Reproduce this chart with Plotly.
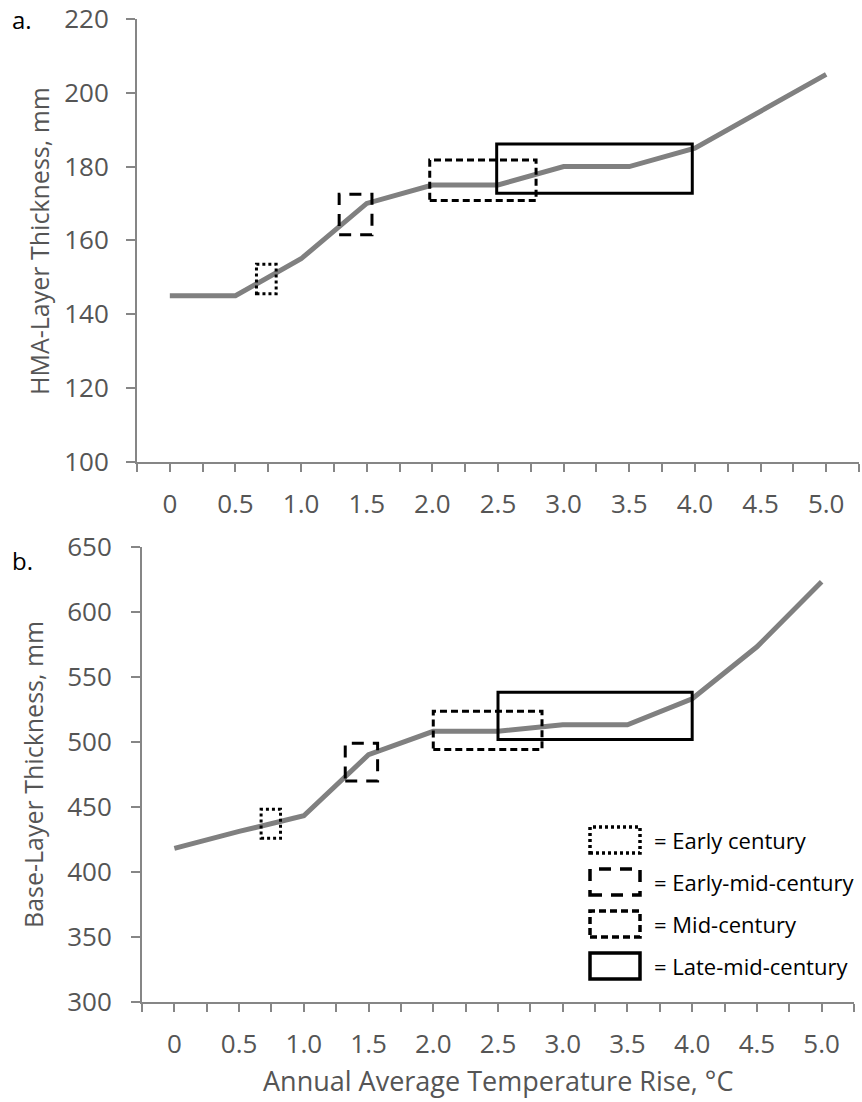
import numpy as np
import plotly.graph_objects as go

# ---------------- data ----------------
temp_rise = [0, 0.5, 1.0, 1.5, 2.0, 2.5, 3.0, 3.5, 4.0, 4.5, 5.0]
hma_thickness = [145, 145, 155, 170, 175, 175, 180, 180, 185, 195, 205]
base_thickness = [418, 431, 443, 490, 508, 508, 513, 513, 533, 573, 623]

x_tick_vals = [0, 0.5, 1.0, 1.5, 2.0, 2.5, 3.0, 3.5, 4.0, 4.5, 5.0]
x_tick_text = ["0", "0.5", "1.0", "1.5", "2.0", "2.5", "3.0", "3.5", "4.0", "4.5", "5.0"]

periods = ["Early century", "Early-mid-century", "Mid-century", "Late-mid-century"]
# period windows (temperature range and thickness range) for panel a
hma_box_x0 = [0.66, 1.29, 1.98, 2.49]
hma_box_x1 = [0.81, 1.54, 2.79, 3.98]
hma_box_y0 = [145.5, 161.5, 170.8, 172.8]
hma_box_y1 = [153.5, 172.5, 181.8, 186.1]
# period windows for panel b
base_box_x0 = [0.67, 1.32, 2.00, 2.50]
base_box_x1 = [0.82, 1.57, 2.84, 4.00]
base_box_y0 = [425.7, 469.8, 494.0, 501.6]
base_box_y1 = [448.0, 498.9, 523.4, 538.0]

# ---------------- style ----------------
W, H = 862, 1102
FONT = "Open Sans"
AX_COL = "#868686"
TXT_COL = "#555555"
LINE_COL = "#808080"
dash_styles = ["3px,3px", "12px,9px", "7px,4px", "solid"]


def px_x(p):
    return p / W


def px_y(p):
    return 1 - p / H


fig = go.Figure()
fig.add_trace(go.Scatter(x=temp_rise, y=hma_thickness, mode="lines",
                         line=dict(color=LINE_COL, width=5), xaxis="x", yaxis="y",
                         showlegend=False, hoverinfo="skip"))
fig.add_trace(go.Scatter(x=temp_rise, y=base_thickness, mode="lines",
                         line=dict(color=LINE_COL, width=5), xaxis="x2", yaxis="y2",
                         showlegend=False, hoverinfo="skip"))

quarter_ticks = list(np.arange(-0.25, 5.26, 0.25))
quarter_text = []
for v in quarter_ticks:
    match = [t for tv, t in zip(x_tick_vals, x_tick_text) if abs(tv - v) < 1e-9]
    quarter_text.append(match[0] if match else "")

common_x = dict(range=[-0.25, 5.25], tickmode="array", tickvals=quarter_ticks,
                ticktext=quarter_text, showline=True, linecolor=AX_COL, linewidth=2,
                ticks="outside", ticklen=8, tickwidth=2, tickcolor=AX_COL,
                showgrid=False, zeroline=False,
                tickfont=dict(family=FONT, size=26, color=TXT_COL))
common_y = dict(showline=True, linecolor=AX_COL, linewidth=2, ticks="outside",
                ticklen=9, tickwidth=2, tickcolor=AX_COL, showgrid=False,
                zeroline=False, tickfont=dict(family=FONT, size=26, color=TXT_COL))

fig.update_layout(
    width=W, height=H,
    margin=dict(l=0, r=0, t=0, b=0),
    paper_bgcolor="white", plot_bgcolor="white",
    template="none",
    showlegend=False,
    xaxis=dict(domain=[px_x(137), px_x(859)], anchor="y", ticklabelstandoff=10, **common_x),
    yaxis=dict(domain=[px_y(461.7), px_y(19)], anchor="x", range=[100, 220],
               tickvals=[100, 120, 140, 160, 180, 200, 220], ticklabelstandoff=12, **common_y),
    xaxis2=dict(domain=[px_x(142), px_x(854)], anchor="y2", ticklabelstandoff=10, **common_x),
    yaxis2=dict(domain=[px_y(1001.7), px_y(546.7)], anchor="x2", range=[300, 650],
                tickvals=[300, 350, 400, 450, 500, 550, 600, 650], ticklabelstandoff=14, **common_y),
)

shapes = []
for i in range(4):
    shapes.append(dict(type="rect", xref="x", yref="y",
                       x0=hma_box_x0[i], x1=hma_box_x1[i], y0=hma_box_y0[i], y1=hma_box_y1[i],
                       line=dict(color="black", width=3, dash=dash_styles[i])))
    shapes.append(dict(type="rect", xref="x2", yref="y2",
                       x0=base_box_x0[i], x1=base_box_x1[i], y0=base_box_y0[i], y1=base_box_y1[i],
                       line=dict(color="black", width=3, dash=dash_styles[i])))

# legend (drawn by hand, as in the original)
leg_top = [827, 869, 911, 953]
leg_h = 26
annotations = []
for i, name in enumerate(periods):
    shapes.append(dict(type="rect", xref="paper", yref="paper",
                       x0=px_x(590), x1=px_x(640), y0=px_y(leg_top[i] + leg_h), y1=px_y(leg_top[i]),
                       line=dict(color="black", width=3.5, dash=dash_styles[i])))
    annotations.append(dict(xref="paper", yref="paper", x=px_x(652), y=px_y(leg_top[i] + leg_h / 2),
                            text="= " + name, showarrow=False, xanchor="left", yanchor="middle",
                            font=dict(family=FONT, size=22, color="black")))

annotations += [
    dict(xref="paper", yref="paper", x=px_x(10), y=px_y(20), text="a.", showarrow=False,
         xanchor="left", yanchor="middle", font=dict(family=FONT, size=24, color="black")),
    dict(xref="paper", yref="paper", x=px_x(10), y=px_y(560), text="b.", showarrow=False,
         xanchor="left", yanchor="middle", font=dict(family=FONT, size=24, color="black")),
    dict(xref="paper", yref="paper", x=px_x(39), y=px_y(241), text="HMA-Layer Thickness, mm",
         showarrow=False, textangle=-90, xanchor="center", yanchor="middle",
         font=dict(family=FONT, size=25, color=TXT_COL)),
    dict(xref="paper", yref="paper", x=px_x(33), y=px_y(775), text="Base-Layer Thickness, mm",
         showarrow=False, textangle=-90, xanchor="center", yanchor="middle",
         font=dict(family=FONT, size=25, color=TXT_COL)),
    dict(xref="paper", yref="paper", x=px_x(498), y=px_y(1080),
         text="Annual Average Temperature Rise, °C", showarrow=False,
         xanchor="center", yanchor="middle", font=dict(family=FONT, size=27, color=TXT_COL)),
]

fig.update_layout(shapes=shapes, annotations=annotations)
fig.write_html("out.html")
